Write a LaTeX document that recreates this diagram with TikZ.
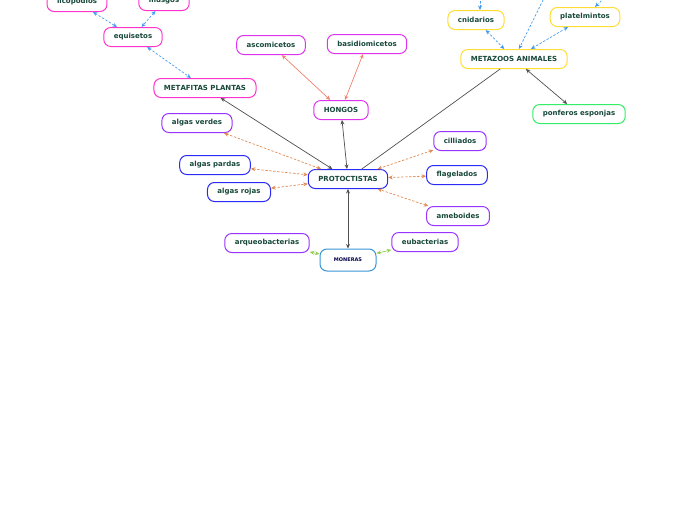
\documentclass[tikz,border=0pt]{standalone}
\usepackage{fontspec}
\setmainfont{DejaVu Sans}
\usetikzlibrary{arrows.meta}

\definecolor{texto}{HTML}{17483A}
\definecolor{rosa}{HTML}{FF33CC}
\definecolor{lila}{HTML}{DD33EE}
\definecolor{violeta}{HTML}{9933FF}
\definecolor{azul}{HTML}{2B2BF5}
\definecolor{celeste}{HTML}{3A94D8}
\definecolor{amarillo}{HTML}{FFDD33}
\definecolor{verde}{HTML}{33EE66}
\definecolor{guion}{HTML}{4499EE}
\definecolor{naranja}{HTML}{E08A50}
\definecolor{salmon}{HTML}{F2806E}
\definecolor{lima}{HTML}{99CC55}
\definecolor{gris}{HTML}{505050}

\begin{document}
\begin{tikzpicture}[x=1pt,y=-1pt,line cap=round,line join=round,>={Stealth[length=4.5pt,width=4pt]},
  tema/.style={draw=#1,line width=1pt,rounded corners=7pt,minimum height=19pt,
    inner xsep=10pt,inner ysep=0pt,fill=white,text=texto,
    font=\bfseries\fontsize{7}{8}\selectfont},
  azules/.style={<->,dash pattern=on 2pt off 2pt,guion,line width=0.7pt},
  algas/.style={<->,dash pattern=on 2pt off 2pt,naranja,line width=0.7pt},
  hongo/.style={<->,salmon,line width=0.7pt},
  bacteria/.style={<->,lima,line width=0.7pt},
  tronco/.style={gris,line width=0.7pt}]

  % marco de la imagen
  \useasboundingbox (0,0) rectangle (696,520);
  \clip (0,0) rectangle (696,520);

  % plantas
  \node[tema=rosa] (licopodios) at (77,2) {licopodios};
  \node[tema=rosa] (musgos) at (164,1) {musgos};
  \node[tema=rosa] (equisetos) at (133,37) {equisetos};
  \node[tema=rosa] (metafitas) at (205,88) {\raisebox{0.8pt}{MET}AFITAS PLANTAS};

  % hongos
  \node[tema=lila] (ascomicetos) at (271,45) {ascomicetos};
  \node[tema=lila] (basidiomicetos) at (367,44) {basidiomicetos};
  \node[tema=lila] (hongos) at (341,110) {HONGOS};

  % animales
  \node[tema=amarillo] (cnidarios) at (476,20) {cnidarios};
  \node[tema=amarillo] (platelmintos) at (585,17) {platelmintos};
  \node[tema=amarillo] (metazoos) at (514,59) {METAZOOS ANIMALES};
  \node[tema=verde] (poriferos) at (579,114) {ponferos esponjas};
  \coordinate (fuera1) at (480,-6);
  \coordinate (fuera2) at (546,-6);
  \coordinate (fuera3) at (608,-6);

  % protoctistas
  \node[tema=azul] (protoctistas) at (348,179) {PROTOCTISTAS};
  \node[tema=violeta] (verdes) at (197,123) {algas verdes};
  \node[tema=azul] (pardas) at (215,165) {algas pardas};
  \node[tema=azul] (rojas) at (239,192) {algas rojas};
  \node[tema=violeta] (ciliados) at (460,141) {cilliados};
  \node[tema=azul] (flagelados) at (457,175) {flagelados};
  \node[tema=violeta] (ameboides) at (458,216) {ameboides};

  % moneras
  \node[tema=celeste,minimum height=22pt,minimum width=56pt,text=blue!30!black,
    font=\bfseries\fontsize{5}{6}\selectfont] (moneras) at (348,260) {MONERAS};
  \node[tema=violeta] (arqueo) at (267,243) {arqueobacterias};
  \node[tema=violeta] (eubacterias) at (425,242) {eubacterias};

  % conexiones
  \draw[azules] (licopodios) -- (equisetos);
  \draw[azules] (musgos) -- (equisetos);
  \draw[azules] (equisetos) -- (metafitas);
  \draw[azules] (cnidarios) -- (metazoos);
  \draw[azules] (fuera2) -- (metazoos);
  \draw[azules] (platelmintos) -- (metazoos);
  \draw[azules,<-] (cnidarios.north -| fuera1) -- (fuera1);
  \draw[azules,<-] (platelmintos) -- (fuera3);

  \draw[hongo] (ascomicetos) -- (hongos);
  \draw[hongo] (basidiomicetos) -- (hongos);

  \draw[tronco,<->] (metafitas) -- (protoctistas);
  \draw[tronco,<->] (hongos) -- (protoctistas);
  \draw[tronco] (metazoos) -- (protoctistas);
  \draw[tronco,<->] (metazoos) -- (poriferos);
  \draw[tronco,<->] (protoctistas) -- (moneras);

  \draw[algas] (verdes) -- (protoctistas);
  \draw[algas] (pardas) -- (protoctistas);
  \draw[algas] (rojas) -- (protoctistas);
  \draw[algas] (ciliados) -- (protoctistas);
  \draw[algas] (flagelados) -- (protoctistas);
  \draw[algas] (ameboides) -- (protoctistas);

  \draw[bacteria] (arqueo) -- (moneras);
  \draw[bacteria] (eubacterias) -- (moneras);
\end{tikzpicture}
\end{document}
